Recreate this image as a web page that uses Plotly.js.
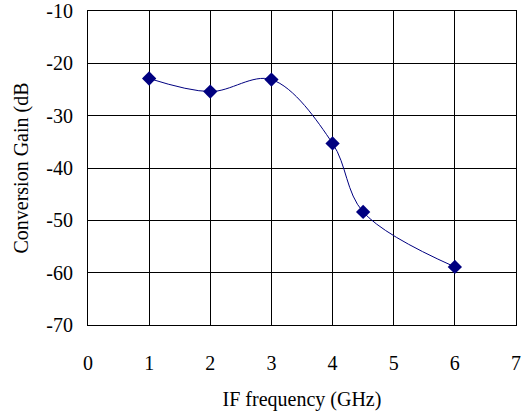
<!DOCTYPE html>
<html>
<head>
<meta charset="utf-8">
<script src="https://cdn.plot.ly/plotly-3.0.1.min.js"></script>
<style>html,body{margin:0;padding:0;background:#fff;}#chart{width:526px;height:416px;}</style>
</head>
<body>
<div id="chart"></div>
<script>
const freqGHz = [1, 2, 3, 4, 4.5, 6];
const gainDb = [-22.9, -25.4, -23.1, -35.3, -48.4, -58.9];
const xTicks = [0, 1, 2, 3, 4, 5, 6, 7];
const yTicks = [-70, -60, -50, -40, -30, -20, -10];

const font = {family: 'Times New Roman, Liberation Serif, DejaVu Serif, serif', size: 20, color: '#000'};

Plotly.newPlot('chart', [{
  x: freqGHz,
  y: gainDb,
  type: 'scatter',
  mode: 'lines+markers',
  line: {color: '#000080', width: 1, shape: 'spline', smoothing: 1},
  marker: {symbol: 'diamond', size: 11, color: '#000080'},
  showlegend: false
}], {
  width: 526, height: 416,
  margin: {l: 88, r: 10, t: 11, b: 91},
  paper_bgcolor: '#fff', plot_bgcolor: '#fff',
  font: font,
  xaxis: {
    range: [0, 7], tickvals: xTicks, ticktext: xTicks.map(String),
    showgrid: true, gridcolor: '#000', gridwidth: 1,
    showline: true, linecolor: '#000', linewidth: 1, mirror: true,
    zeroline: false, ticks: '', ticklabelstandoff: 20,
    tickfont: font,
    title: {text: 'IF frequency (GHz)', font: font, standoff: 18}
  },
  yaxis: {
    range: [-70, -10], tickvals: yTicks, ticktext: yTicks.map(String),
    showgrid: true, gridcolor: '#000', gridwidth: 1,
    showline: true, linecolor: '#000', linewidth: 1, mirror: true,
    zeroline: false, ticks: '', ticklabelstandoff: 10,
    tickfont: font,
    title: {text: 'Conversion Gain (dB', font: font, standoff: 12}
  }
}, {displayModeBar: false, staticPlot: true});
</script>
</body>
</html>
